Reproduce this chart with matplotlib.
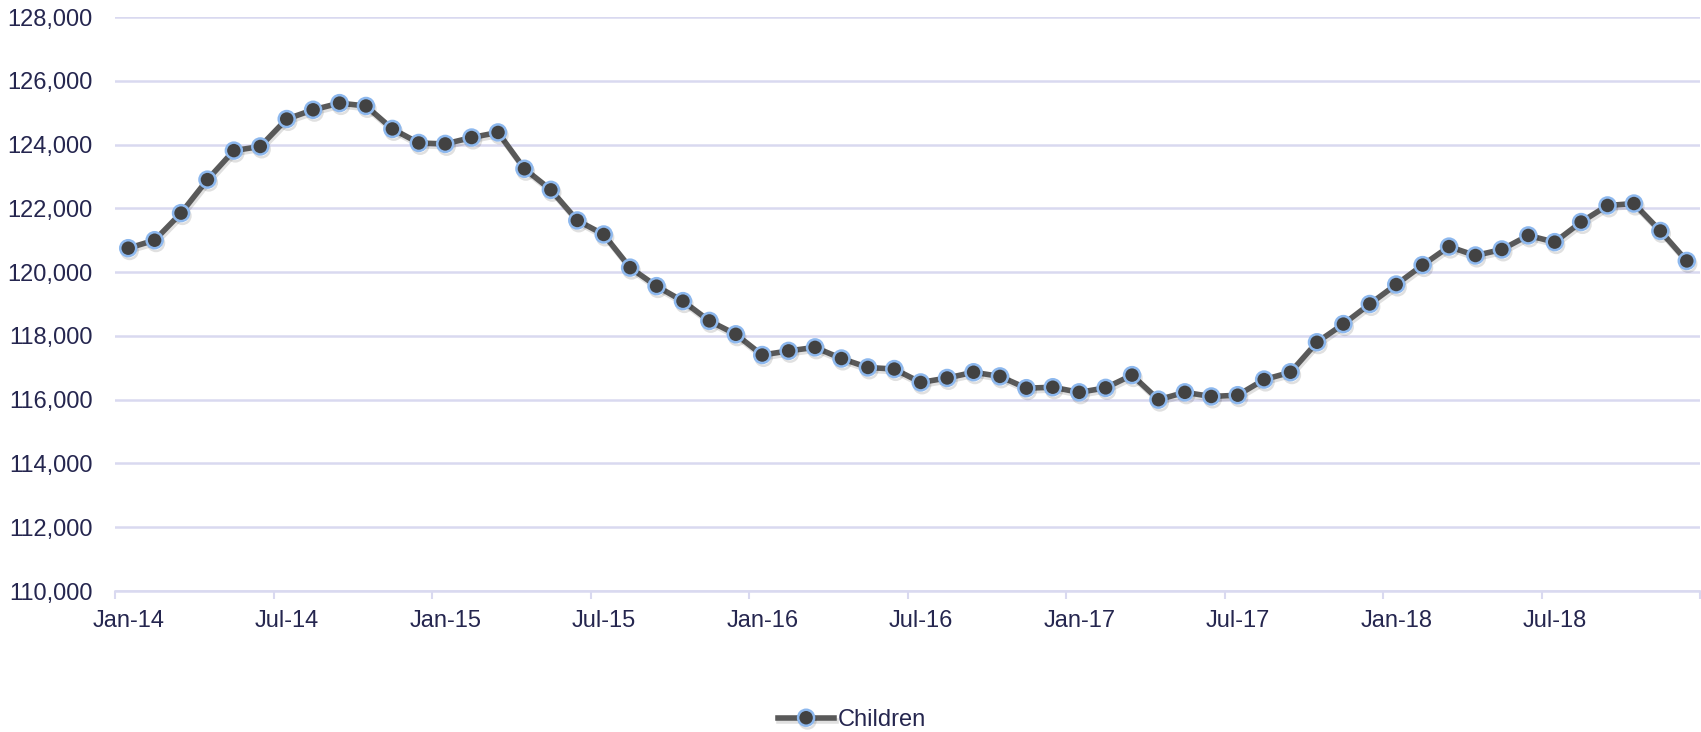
import matplotlib
matplotlib.use("Agg")
import matplotlib.pyplot as plt
import matplotlib.patheffects as pe
from matplotlib.ticker import FuncFormatter, FixedLocator

# monthly counts, Jan-14 .. Dec-18
months = [f"{m}-{y}" for y in range(14, 19)
          for m in ["Jan", "Feb", "Mar", "Apr", "May", "Jun",
                    "Jul", "Aug", "Sep", "Oct", "Nov", "Dec"]]
children = [
    120750, 121000, 121850, 122900, 123810, 123940,
    124800, 125090, 125300, 125210, 124490, 124050,
    124020, 124220, 124380, 123240, 122580, 121620,
    121180, 120140, 119560, 119090, 118470, 118050,
    117400, 117530, 117640, 117290, 117010, 116960,
    116540, 116680, 116860, 116730, 116360, 116390,
    116230, 116370, 116770, 116000, 116230, 116100,
    116140, 116630, 116860, 117800, 118370, 119000,
    119610, 120220, 120800, 120520, 120710, 121150,
    120940, 121570, 122090, 122150, 121290, 120350,
]
y_ticks = list(range(110000, 128001, 2000))
label_every = 6

TEXT = "#25264f"
GRID = "#d9d9f0"
LINE = "#595959"
FACE = "#424242"
EDGE = "#8db8ee"
FS = 17

plt.rcParams["font.family"] = ["Liberation Sans", "DejaVu Sans"]

fig = plt.figure(figsize=(17.01, 7.32), dpi=100)
ax = fig.add_axes([115 / 1701, 1 - 591 / 732, 1585 / 1701, 574 / 732])

x = list(range(len(children)))
ax.plot(x, children, color=LINE, lw=4.0, marker="o", ms=11.5,
        mfc=FACE, mec=EDGE, mew=1.8, label="Children", zorder=3,
        path_effects=[pe.SimpleLineShadow(offset=(1, -2), alpha=0.12, shadow_color="black"),
                      pe.Normal()])

ax.set_ylim(y_ticks[0], y_ticks[-1])
ax.set_xlim(-0.5, len(children) - 0.5)
ax.set_yticks(y_ticks)
ax.yaxis.set_major_formatter(FuncFormatter(lambda v, _: f"{int(v):,}"))
ax.tick_params(axis="y", length=0, pad=16, labelsize=FS, labelcolor=TEXT)
ax.grid(axis="y", color=GRID, lw=1.8)
ax.set_axisbelow(True)

# category boundaries get tick marks, labels sit on the category
ax.xaxis.set_major_locator(FixedLocator([i - 0.5 for i in range(0, len(children) + 1, label_every)]))
ax.xaxis.set_minor_locator(FixedLocator(list(range(0, len(children), label_every))))
ax.set_xticklabels([], minor=False)
ax.set_xticklabels(months[::label_every], minor=True)
ax.tick_params(axis="x", which="major", length=6, width=1.5, color=GRID)
ax.tick_params(axis="x", which="minor", length=0, pad=14, labelsize=FS, labelcolor=TEXT)

for s in ["top", "right", "left"]:
    ax.spines[s].set_visible(False)
ax.spines["bottom"].set_color(GRID)
ax.spines["bottom"].set_linewidth(1.8)

fig.legend(loc="center", bbox_to_anchor=(852 / 1701, 1 - 720 / 732), frameon=False,
           fontsize=FS, labelcolor=TEXT, handlelength=2.4, handletextpad=0.15)

fig.savefig("out.png", dpi=100)
